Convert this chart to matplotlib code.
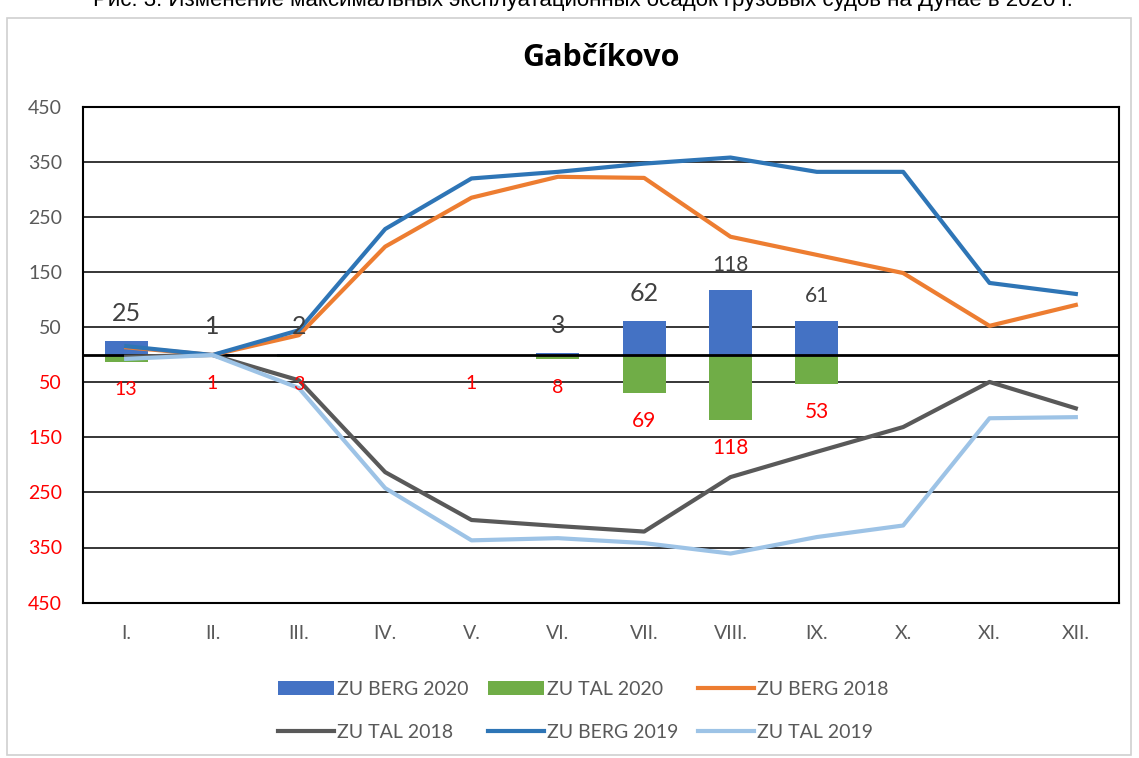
import matplotlib
matplotlib.use("Agg")
import matplotlib.pyplot as plt
from matplotlib.patches import Rectangle
import numpy as np

months = ['I.', 'II.', 'III.', 'IV.', 'V.', 'VI.', 'VII.', 'VIII.', 'IX.', 'X.', 'XI.', 'XII.']

# bars (2020), None = no bar
berg_2020 = [25, 1, 2, None, None, 3, 62, 118, 61, None, None, None]
tal_2020 = [13, 1, 3, None, 1, 8, 69, 118, 53, None, None, None]

# lines
berg_2018 = [14, 0, 36, 197, 286, 324, 322, 215, 182, 149, 53, 91]
tal_2018 = [-3, 0, -46, -213, -300, -311, -321, -222, -176, -131, -49, -97]
berg_2019 = [16, 0, 45, 229, 321, 333, 348, 359, 333, 333, 131, 111]
tal_2019 = [-7, 0, -60, -242, -337, -333, -342, -361, -331, -310, -115, -113]

# label font size per 2020 bar (big / small as in the picture)
berg_label_size = [18, 18, 18, None, None, 18, 18, 15, 15, None, None, None]

plt.rcParams['font.family'] = ['Lato', 'DejaVu Sans']

C_BERG20 = '#4472C4'
C_TAL20 = '#70AD47'
C_B18 = '#ED7D31'
C_T18 = '#595959'
C_B19 = '#2E75B6'
C_T19 = '#9DC3E6'
GREY_TXT = '#595959'

fig = plt.figure(figsize=(11.39, 7.58), dpi=100)

# outer chart border + cut caption at the very top
fig.patches.append(Rectangle((7 / 1139, 3 / 758), 1124 / 1139, 737 / 758,
                             transform=fig.transFigure, fill=False,
                             edgecolor='#D0D0D0', lw=1.2))
fig.text(0.512, 1 - 6 / 758,
         'Рис. 3. Изменение максимальных эксплуатационных осадок грузовых судов на Дунае в 2020 г.',
         ha='center', va='baseline', fontsize=16,
         family=['Liberation Sans Narrow', 'Liberation Sans', 'DejaVu Sans'])

ax = fig.add_axes([83 / 1139, 1 - 602.5 / 758, 1036 / 1139, 495 / 758])
x = np.arange(len(months))

bx = [i for i, v in enumerate(berg_2020) if v is not None]
bv = [v for v in berg_2020 if v is not None]
tx = [i for i, v in enumerate(tal_2020) if v is not None]
tv = [-v for v in tal_2020 if v is not None]

h_b20 = ax.bar(bx, bv, width=0.5, color=C_BERG20, label='ZU BERG 2020', zorder=2)
h_t20 = ax.bar(tx, tv, width=0.5, color=C_TAL20, label='ZU TAL 2020', zorder=2)

h_b18, = ax.plot(x, berg_2018, color=C_B18, lw=3, label='ZU BERG 2018', zorder=4)
h_t18, = ax.plot(x, tal_2018, color=C_T18, lw=3, label='ZU TAL 2018', zorder=4)
h_b19, = ax.plot(x, berg_2019, color=C_B19, lw=3, label='ZU BERG 2019', zorder=4)
h_t19, = ax.plot(x, tal_2019, color=C_T19, lw=3, label='ZU TAL 2019', zorder=4)

for i, v in enumerate(berg_2020):
    if v is None:
        continue
    fs = berg_label_size[i]
    off = 20 if fs == 18 else 18
    ax.annotate(str(v), (i, v), xytext=(0, off), textcoords='offset points',
                ha='center', va='center', fontsize=fs, color='#404040', zorder=5)
for i, v in enumerate(tal_2020):
    if v is None:
        continue
    fs = 15 if v > 20 else 14
    ax.annotate(str(v), (i, -v), xytext=(0, -20), textcoords='offset points',
                ha='center', va='center', fontsize=fs, color='#FF0000', zorder=5)

ax.set_xlim(-0.5, 11.5)
ax.set_ylim(-450, 450)
yt = np.arange(-450, 451, 100)
ax.set_yticks(yt)
ax.set_yticklabels([str(abs(v)) for v in yt], fontsize=14)
for lab, v in zip(ax.get_yticklabels(), yt):
    lab.set_color('#FF0000' if v < 0 else GREY_TXT)
ax.set_xticks(x)
ax.set_xticklabels(months, fontsize=14, color=GREY_TXT)
ax.tick_params(axis='y', length=0, pad=15)
ax.tick_params(axis='x', length=0, pad=16)

ax.grid(axis='y', color='black', lw=1.1, zorder=1)
ax.axhline(0, color='black', lw=2, zorder=3)
for s in ax.spines.values():
    s.set_color('black')
    s.set_linewidth(1.5)

ax.set_title('Gabčíkovo', fontsize=22, fontweight='bold',
             family=['Open Sans', 'DejaVu Sans'], pad=30)

# legend filled column by column -> order so rows read like the original
handles = [h_b20, h_t18, h_t20, h_b19, h_b18, h_t19]
labels = [h.get_label() for h in handles]
fig.legend(handles, labels, loc='center', bbox_to_anchor=(0.512, 1 - 711 / 758), ncol=3,
           frameon=False, fontsize=14, handlelength=2.9, handleheight=0.75,
           handletextpad=0.15, columnspacing=1.0, labelspacing=1.35,
           labelcolor=GREY_TXT)

fig.savefig('out.png', dpi=100)
